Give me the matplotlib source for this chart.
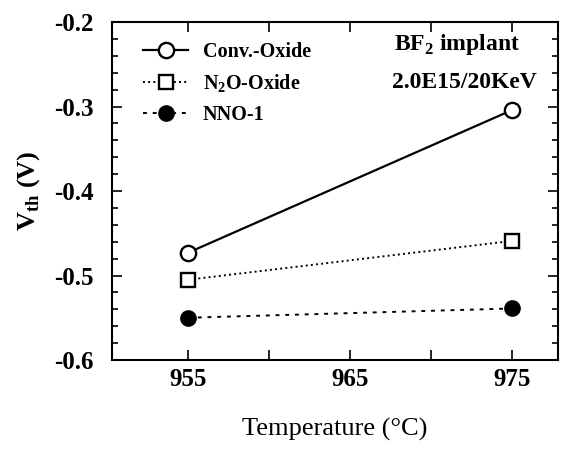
import matplotlib.pyplot as plt
from matplotlib.ticker import MultipleLocator

plt.rcParams['font.family'] = ['Liberation Serif', 'DejaVu Serif']
plt.rcParams['mathtext.fontset'] = 'custom'
plt.rcParams['mathtext.rm'] = 'Liberation Serif'
plt.rcParams['mathtext.bf'] = 'Liberation Serif:bold'
plt.rcParams['axes.unicode_minus'] = False

# data
temperature = [955, 975]
conv_oxide = [-0.473, -0.304]
n2o_oxide = [-0.505, -0.459]
nno_1 = [-0.550, -0.539]
labels = ['Conv.-Oxide', r'N$_\mathbf{2}$O-Oxide', 'NNO-1']

fig = plt.figure(figsize=(5.68, 4.5), dpi=100)
ax = fig.add_axes([0.197, 0.2, 0.785, 0.751])

ax.plot(temperature, conv_oxide, '-', color='black', lw=1.6,
        marker='o', ms=11, mfc='white', mec='black', mew=1.7, label=labels[0])
ax.plot(temperature, n2o_oxide, ':', color='black', lw=1.4,
        marker='s', ms=10, mfc='white', mec='black', mew=1.7, label=labels[1])
ax.plot(temperature, nno_1, color='black', lw=1.4, dashes=(2, 3),
        marker='o', ms=11, mfc='black', mec='black', label=labels[2])

ax.set_xlim(950.3, 977.8)
ax.set_ylim(-0.6, -0.2)
ax.set_xticks([955, 965, 975])
ax.xaxis.set_minor_locator(MultipleLocator(5))
ax.yaxis.set_major_locator(MultipleLocator(0.1))
ax.yaxis.set_minor_locator(MultipleLocator(0.02))
ax.tick_params(which='both', direction='in', top=True, right=True, width=1.2)
ax.tick_params(which='major', length=7, labelsize=18)
ax.tick_params(which='minor', length=4)
ax.tick_params(axis='x', which='minor', length=7)
ax.tick_params(axis='x', which='major', pad=6)
ax.tick_params(axis='y', which='major', pad=13)
for lab in ax.get_xticklabels() + ax.get_yticklabels():
    lab.set_fontweight('bold')
for sp in ax.spines.values():
    sp.set_linewidth(1.5)

ax.set_xlabel('Temperature (°C)', fontsize=19, labelpad=19)
ax.set_ylabel(r'V$_{\mathbf{th}}$ (V)', fontsize=19, fontweight='bold', labelpad=9)

ax.text(0.775, 0.935, r'BF$_\mathbf{2}$ implant', transform=ax.transAxes,
        ha='center', va='center', fontsize=17, fontweight='bold')
ax.text(0.79, 0.82, '2.0E15/20KeV', transform=ax.transAxes,
        ha='center', va='center', fontsize=17, fontweight='bold')

leg = ax.legend(loc='upper left', frameon=False, fontsize=14.5,
                handlelength=2.25, handletextpad=0.7, borderpad=0,
                borderaxespad=0, labelspacing=0.5,
                bbox_to_anchor=(0.07, 0.94))
for t in leg.get_texts():
    t.set_fontweight('bold')

fig.savefig('out.png', dpi=100)
